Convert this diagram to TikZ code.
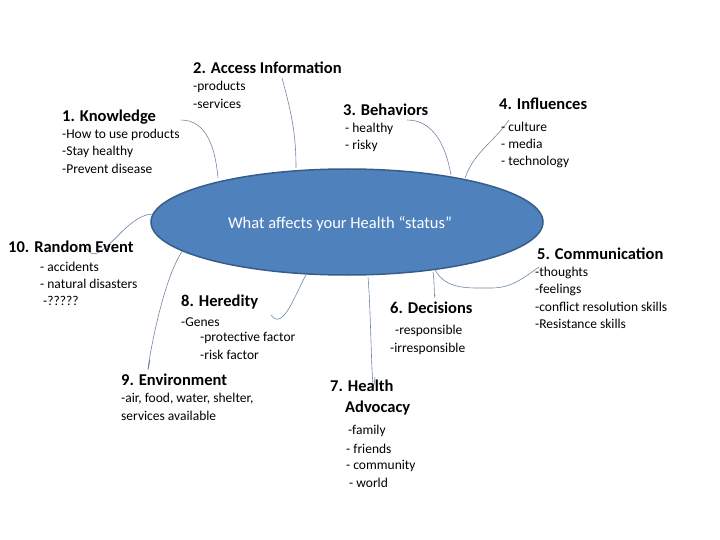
\documentclass[tikz,border=0pt]{standalone}
\usepackage{fontspec}
\setmainfont{Carlito}
\usetikzlibrary{shapes.geometric}
\definecolor{efill}{RGB}{79,129,189}
\definecolor{edraw}{RGB}{56,93,138}
\definecolor{lcol}{RGB}{110,135,165}
\begin{document}
\begin{tikzpicture}[x=1pt,y=-1pt,
  ttl/.style={anchor=west,inner sep=0pt,font=\fontsize{16.5}{18}\selectfont\bfseries},
  itm/.style={anchor=west,inner sep=0pt,font=\fontsize{13.5}{15}\selectfont},
  con/.style={draw=lcol,line width=0.6pt}]
\useasboundingbox (0,0) rectangle (720,540);
% connector ends
\coordinate (k1) at (181,120); \coordinate (k2) at (218,178);
\coordinate (a1) at (282,78);  \coordinate (a2) at (296,168);
\coordinate (b1) at (407,120); \coordinate (b2) at (451,175);
\coordinate (i1) at (509,120); \coordinate (i2) at (465,178);
\coordinate (c1) at (539,267); \coordinate (cm) at (491,288); \coordinate (c2) at (435,270);
\coordinate (d1) at (435,295); \coordinate (d2) at (433,272);
\coordinate (h1) at (375,377); \coordinate (h2) at (368,277);
\coordinate (r1) at (271,315); \coordinate (r2) at (306,275);
\coordinate (n1) at (150,360); \coordinate (n2) at (183,250);
\coordinate (e1) at (86,247);  \coordinate (e2) at (153,214);
\draw[con] (k1) to[out=0,in=95] (k2);
\draw[con] (a1) to[out=-75,in=90] (a2);
\draw[con] (b1) to[out=0,in=100] (b2);
\draw[con] (i1) to[out=-125,in=70] (i2);
\draw[con] (c1) to[out=-145,in=0] (cm) to[out=180,in=-60] (c2);
\draw[con] (d1) to[out=-95,in=-80] (d2);
\draw[con] (h1) to[out=-95,in=-85] (h2);
\draw[con] (r1) to[out=-55,in=-120] (r2);
\draw[con] (n1) to[out=-100,in=-125] (n2);
\draw[con] (e1) to[out=-65,in=180] (e2);
\node[ellipse,draw=edraw,fill=efill,line width=1.5pt,minimum width=392pt,minimum height=106pt,inner sep=0pt] (e) at (347,222) {};
\node[anchor=center,inner sep=0pt,text=white,font=\fontsize{16.5}{18}\selectfont] (et) at (340,224) {What affects your Health “status”};
% 2
\node[ttl] (t2) at (193,68) {2. Access Information};
\node[itm] (t2a) at (193,87) {-products};
\node[itm] (t2b) at (193,104) {-services};
% 1
\node[ttl] (t1) at (62,117) {1. Knowledge};
\node[itm] (t1a) at (62,135) {-How to use products};
\node[itm] (t1b) at (62,152) {-Stay healthy};
\node[itm] (t1c) at (62,169) {-Prevent disease};
% 3
\node[ttl] (t3) at (343,110) {3. Behaviors};
\node[itm] (t3a) at (345,129) {- healthy};
\node[itm] (t3b) at (345,146) {- risky};
% 4
\node[ttl] (t4) at (499,104) {4. Influences};
\node[itm] (t4a) at (501,127) {- culture};
\node[itm] (t4b) at (501,144) {- media};
\node[itm] (t4c) at (501,162) {- technology};
% 10
\node[ttl] (t10) at (8,247) {10. Random Event};
\node[itm] (t10a) at (40,267) {- accidents};
\node[itm] (t10b) at (40,284) {- natural disasters};
\node[itm] (t10c) at (43,301) {-?????};
% 5
\node[ttl] (t5) at (537,254) {5. Communication};
\node[itm] (t5a) at (535,273) {-thoughts};
\node[itm] (t5b) at (535,290) {-feelings};
\node[itm] (t5c) at (535,307) {-conflict resolution skills};
\node[itm] (t5d) at (535,324) {-Resistance skills};
% 8
\node[ttl] (t8) at (181,302) {8. Heredity};
\node[itm] (t8a) at (181,322) {-Genes};
\node[itm] (t8b) at (200,338) {-protective factor};
\node[itm] (t8c) at (200,355) {-risk factor};
% 6
\node[ttl] (t6) at (390,308) {6. Decisions};
\node[itm] (t6a) at (395,331) {-responsible};
\node[itm] (t6b) at (390,349) {-irresponsible};
% 9
\node[ttl] (t9) at (121,380) {9. Environment};
\node[itm] (t9a) at (121,399) {-air, food, water, shelter,};
\node[itm] (t9b) at (121,416) {services available};
% 7
\node[ttl] (t7) at (330,386) {7. Health};
\node[ttl] (t7b) at (345,408) {Advocacy};
\node[itm] (t7c) at (348,431) {-family};
\node[itm] (t7d) at (346,449) {- friends};
\node[itm] (t7e) at (346,466) {- community};
\node[itm] (t7f) at (349,483) {- world};
\end{tikzpicture}
\end{document}
